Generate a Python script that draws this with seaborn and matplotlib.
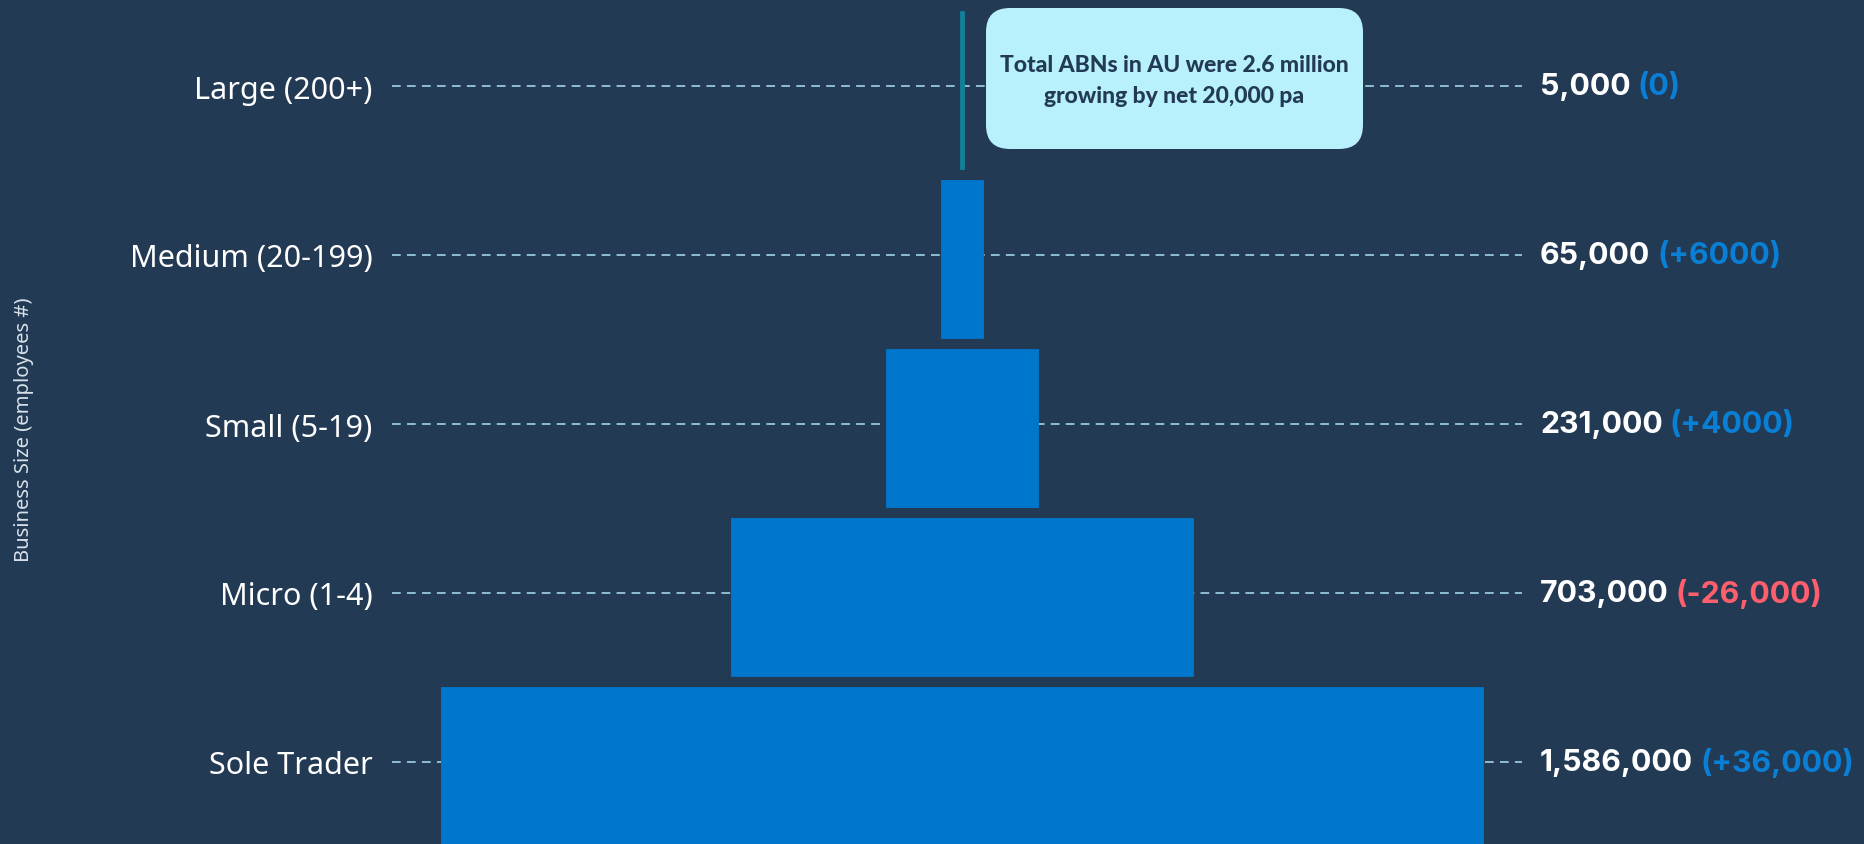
import matplotlib
matplotlib.use("Agg")
import matplotlib.pyplot as plt
import seaborn as sns
import pandas as pd
from matplotlib.patches import FancyBboxPatch

# ---------------- data ----------------
categories = ["Large (200+)", "Medium (20-199)", "Small (5-19)", "Micro (1-4)", "Sole Trader"]
counts = [5000, 65000, 231000, 703000, 1586000]
count_labels = ["5,000", "65,000", "231,000", "703,000", "1,586,000"]
change_labels = ["(0)", "(+6000)", "(+4000)", "(-26,000)", "(+36,000)"]
change_signs = [0, 1, 1, -1, 1]
annotation_text = "Total ABNs in AU were 2.6 million\ngrowing by net 20,000 pa"
y_title = "Business Size (employees #)"

# ---------------- style ----------------
BG = "#233a54"
BAR = "#0077cc"
LARGE = "#12809a"
GRID = "#8dbdd4"
POS = "#0a7fd6"
NEG = "#ff5f6d"
BOX = "#b8f1fb"

sns.set_theme(style="white")
plt.rcParams["font.family"] = ["Lato", "DejaVu Sans"]

W, H = 1865, 845
fig = plt.figure(figsize=(W / 100, H / 100), dpi=100, facecolor=BG)
ax = fig.add_axes([392 / W, 0, (1522 - 392) / W, 1])
ax.set_facecolor(BG)

df = pd.DataFrame({"cat": categories, "val": counts})
df["half"] = df["val"] / 2
df["neg"] = -df["val"] / 2
palette = {c: (LARGE if i == 0 else BAR) for i, c in enumerate(categories)}

for col in ["half", "neg"]:
    sns.barplot(data=df, x=col, y="cat", hue="cat", palette=palette, order=categories,
                orient="h", width=0.935, legend=False, ax=ax,
                edgecolor=None, linewidth=0, saturation=1, zorder=3)
for p in ax.patches:
    p.set_edgecolor(p.get_facecolor())
    p.set_linewidth(0.6)

# scale: sole trader bar spans 1042 px, centred at pixel 962
s = 1042 / counts[-1]
ax.set_xlim(-570 / s, 560 / s)
row_px, first_px, bar_shift = 169, 87, 4
ax.set_ylim((H - first_px - bar_shift) / row_px, -(first_px + bar_shift) / row_px)

ax.grid(False)
off = bar_shift / row_px
for i in range(len(categories)):
    ax.axhline(i - off, color=GRID, lw=1.4, ls=(0, (4.5, 3.2)), zorder=1)
ax.set_yticks([i - off for i in range(len(categories))])
ax.set_yticklabels(categories)

for sp in ax.spines.values():
    sp.set_visible(False)
ax.set_xticks([])
ax.set_xlabel("")
ax.set_ylabel("")
ax.tick_params(axis="y", length=0, pad=14, labelsize=22, labelcolor="#ffffff")
for t in ax.get_yticklabels():
    t.set_fontfamily(["Noto Sans", "DejaVu Sans"])

# right-hand labels
for i, (cl, ch, sg) in enumerate(zip(count_labels, change_labels, change_signs)):
    y_frac = 1 - (first_px + row_px * i) / H
    t1 = fig.text(1540 / W, y_frac, cl, color="white", fontsize=21.8, fontweight="bold",
                  ha="left", va="center", family=["Inter", "DejaVu Sans"])
    ax.annotate(ch, xy=(1, 0.5), xycoords=t1, xytext=(5, 0), textcoords="offset points",
                ha="left", va="center", fontsize=21.8, fontweight="bold",
                family=["Inter", "DejaVu Sans"],
                color=NEG if sg < 0 else POS)

# y title
fig.text(24 / W, 1 - 430 / H, y_title, rotation=90, ha="center", va="center",
         color="#d8e2ea", fontsize=14.5, family=["Noto Sans", "DejaVu Sans"])

# annotation box
box = FancyBboxPatch((9.86, (H - 150) / 100), 3.77, 1.41,
                     boxstyle="round,pad=0,rounding_size=0.24",
                     transform=fig.dpi_scale_trans, facecolor=BOX, edgecolor="none",
                     zorder=10)
fig.patches.append(box)
fig.text(1174.5 / W, 1 - 81 / H, annotation_text, ha="center", va="center",
         color="#233a54", fontsize=16.5, fontweight="black", linespacing=1.55, zorder=11)

fig.savefig("out.png", dpi=100, facecolor=BG)
